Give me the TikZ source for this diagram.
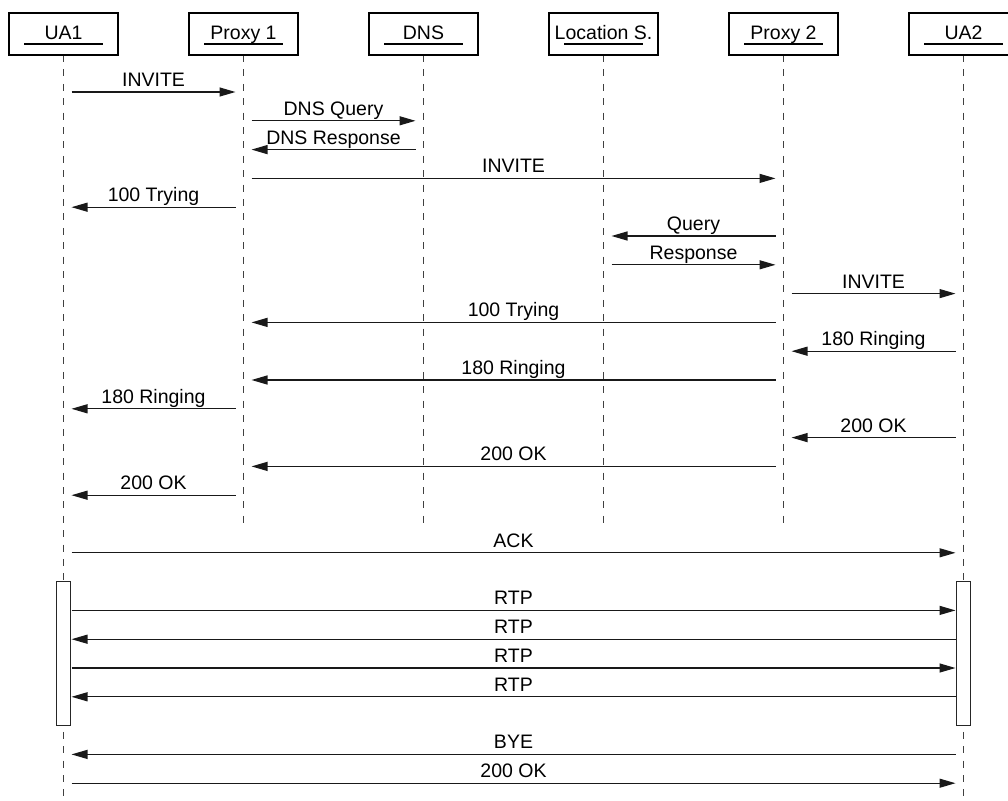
\documentclass[tikz,border=0pt]{standalone}
\usepackage{fontspec}
\setmainfont{Liberation Sans}
\usetikzlibrary{arrows.meta}

\tikzset{
  hdr/.style={draw=black, line width=1.2pt, fill=white, minimum width=109pt,
    minimum height=42pt, inner sep=0pt, text height=14pt, text depth=2pt},
  lifeline/.style={draw=black!75, line width=1.3pt, dash pattern=on 7pt off 7.4pt},
  msg/.style={draw=black!90, line width=1.2pt, -{Triangle[length=16pt,width=9pt]}},
  lbl/.style={anchor=base, yshift=5.5pt, inner sep=0pt, text=black},
  actbar/.style={draw=black!85, line width=1.2pt, fill=white},
}

% one message per row: \msgR / \msgL draw to the right / left between lifelines
\newcommand{\msgR}[4]{\draw[msg] ([xshift=8pt]#1-#3) -- node[lbl]{#4} ([xshift=-8pt]#2-#3);}
\newcommand{\msgL}[4]{\draw[msg] ([xshift=-8pt]#1-#3) -- node[lbl]{#4} ([xshift=8pt]#2-#3);}

\begin{document}
\begin{tikzpicture}[x=1pt, y=-1pt, font=\fontsize{19.5}{23}\selectfont]
\clip (0,0) rectangle (1008,800);
\fill[white] (0,0) rectangle (1008,800);

% participants
\foreach \n/\t [count=\i from 0] in {ua1/UA1, px1/Proxy 1, dns/DNS, loc/Location S., px2/Proxy 2, ua2/UA2} {
  \pgfmathsetmacro{\xx}{63.5+180*\i}
  \coordinate (\n-top) at (\xx,55);
  \foreach \k in {1,...,26} {
    \pgfmathsetmacro{\yy}{63.2+28.8*\k}
    \coordinate (\n-\k) at (\xx,\yy);
  }
}

% lifelines
\foreach \n in {px1,dns,loc,px2}
  \draw[lifeline] (\n-top) -- (\n-16);
\foreach \n in {ua1,ua2}
  \draw[lifeline] (\n-top) -- (\n-26);

% header boxes with underlined names
\foreach \n/\t [count=\i from 0] in {ua1/UA1, px1/Proxy 1, dns/DNS, loc/Location S., px2/Proxy 2, ua2/UA2} {
  \node[hdr] (\n) at ([yshift=21pt]\n-top) {\t};
  \draw[line width=1.2pt] ([xshift=-39.5pt,yshift=-10pt]\n.center) -- ([xshift=39.5pt,yshift=-10pt]\n.center);
}

% call setup
\msgR{ua1}{px1}{1}{INVITE}
\msgR{px1}{dns}{2}{DNS Query}
\msgL{dns}{px1}{3}{DNS Response}
\msgR{px1}{px2}{4}{INVITE}
\msgL{px1}{ua1}{5}{100 Trying}
\msgL{px2}{loc}{6}{Query}
\msgR{loc}{px2}{7}{Response}
\msgR{px2}{ua2}{8}{INVITE}
\msgL{px2}{px1}{9}{100 Trying}
\msgL{ua2}{px2}{10}{180 Ringing}
\msgL{px2}{px1}{11}{180 Ringing}
\msgL{px1}{ua1}{12}{180 Ringing}
\msgL{ua2}{px2}{13}{200 OK}
\msgL{px2}{px1}{14}{200 OK}
\msgL{px1}{ua1}{15}{200 OK}
\msgR{ua1}{ua2}{17}{ACK}

% media session activation bars
\draw[actbar] ([xshift=-7pt]ua1-18) rectangle ([xshift=7pt]ua1-23);
\draw[actbar] ([xshift=-7pt]ua2-18) rectangle ([xshift=7pt]ua2-23);

\msgR{ua1}{ua2}{19}{RTP}
\msgL{ua2}{ua1}{20}{RTP}
\msgR{ua1}{ua2}{21}{RTP}
\msgL{ua2}{ua1}{22}{RTP}

% teardown
\msgL{ua2}{ua1}{24}{BYE}
\msgR{ua1}{ua2}{25}{200 OK}
\end{tikzpicture}
\end{document}
